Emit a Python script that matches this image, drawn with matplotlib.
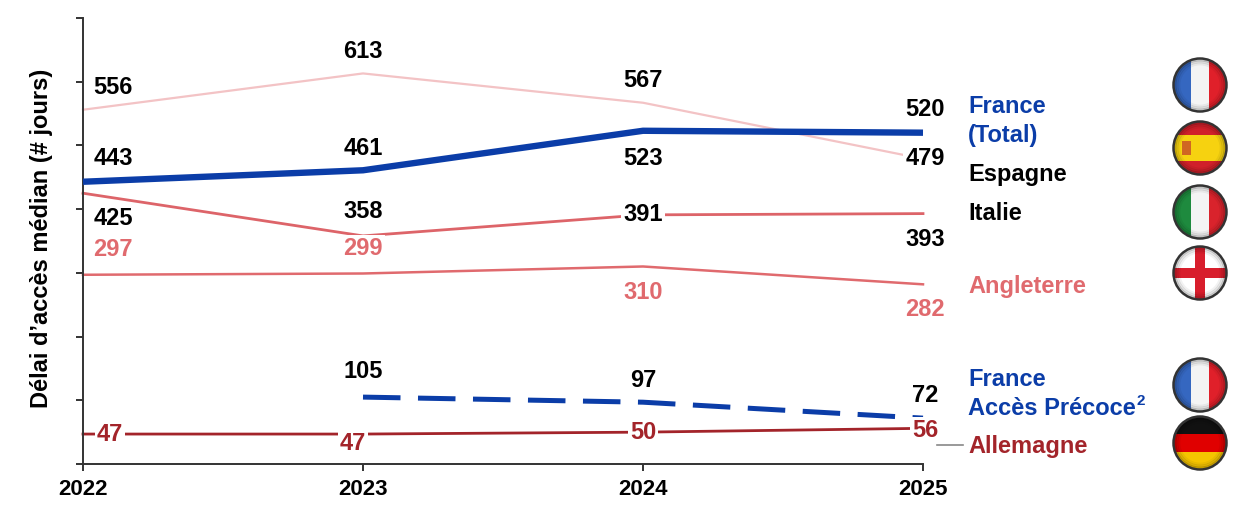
import matplotlib
matplotlib.use("Agg")
import matplotlib.pyplot as plt
from matplotlib.patches import Circle, Rectangle

plt.rcParams['font.family'] = ['Liberation Sans', 'DejaVu Sans']
plt.rcParams['font.weight'] = 'bold'

# ---------------- data ----------------
years = [2022, 2023, 2024, 2025]
years_precoce = [2023, 2024, 2025]
france_total = [443, 461, 523, 520]
espagne = [556, 613, 567, 479]
italie = [425, 358, 391, 393]
angleterre = [297, 299, 310, 282]
france_precoce = [105, 97, 72]
allemagne = [47, 47, 50, 56]
series_names = ["France\n(Total)", "Espagne", "Italie", "Angleterre",
                "France\nAccès Précoce", "Allemagne"]
footnote_mark = "2"
ylabel = "Délai d’accès médian (# jours)"

# ---------------- styles ----------------
BLUE = "#0B3DA8"
PINK = "#F3C3C5"
ITALY = "#DD6469"
ENG = "#E06A6E"
GER = "#A3242A"

W, H = 1254, 529
fig = plt.figure(figsize=(W / 100, H / 100), dpi=100)
ax = fig.add_axes([83 / W, 1 - 464 / H, (923 - 83) / W, (464 - 18) / H])
ax.set_xlim(2022, 2025)
ax.set_ylim(0, 700)

for s in ("top", "right"):
    ax.spines[s].set_visible(False)
for s in ("left", "bottom"):
    ax.spines[s].set_color("#333333")
    ax.spines[s].set_linewidth(1.4)
ax.set_yticks(range(0, 701, 100))
ax.set_yticklabels([])
ax.set_xticks(years)
ax.set_xticklabels([str(y) for y in years], fontsize=16, fontweight='bold')
ax.tick_params(axis='y', direction='out', length=5, width=1.4, color="#333333")
ax.tick_params(axis='x', direction='out', length=5, width=1.4, color="#333333", pad=6)

ax.plot(years, espagne, color=PINK, lw=1.6, zorder=2, clip_on=False)
ax.plot(years, italie, color=ITALY, lw=2.0, zorder=2, clip_on=False)
ax.plot(years, angleterre, color=ENG, lw=1.8, zorder=2, clip_on=False)
ax.plot(years, allemagne, color=GER, lw=2.0, zorder=2, clip_on=False)
ax.plot(years_precoce, france_precoce, color=BLUE, lw=3.6, dashes=(7.5, 3.5),
        zorder=3, clip_on=False)
ax.plot(years, france_total, color=BLUE, lw=4.6, zorder=4, clip_on=False, solid_capstyle='butt')


def lab(xs, vals, offs, color):
    for x, v, (dx, dy) in zip(xs, vals, offs):
        ax.annotate(str(v), (x, v), xytext=(dx, dy), textcoords='offset pixels',
                    ha='center', va='center', fontsize=17, fontweight='bold',
                    color=color, zorder=6, annotation_clip=False,
                    bbox=dict(boxstyle='square,pad=0.08', fc='white', ec='none'))


lab(years, espagne, [(30, 22), (0, 22), (0, 22), (2, 0)], "black")
lab(years, france_total, [(30, 23), (0, 22), (0, -28), (2, 23)], "black")
lab(years, italie, [(30, -25), (0, 24), (0, 0), (2, -26)], "black")
lab(years, angleterre, [(30, 25), (0, 25), (0, -26), (2, -25)], ENG)
lab(years_precoce, france_precoce, [(0, 26), (0, 22), (2, 23)], "black")
lab(years, allemagne, [(27, 0), (-10, -9), (0, 0), (2, -2)], GER)

fig.text(42 / W, 1 - 238 / H, ylabel, rotation=90, ha='center', va='center',
         fontsize=17, fontweight='bold')

# ---------------- overlay (pixel coordinates) ----------------
ov = fig.add_axes([0, 0, 1, 1], zorder=-1)
ov.set_xlim(0, W)
ov.set_ylim(H, 0)
ov.axis('off')

name_colors = [BLUE, "black", "black", ENG, BLUE, GER]
name_y = [121, 174, 214, 286, 394, 447]
texts = []
for name, c, y in zip(series_names, name_colors, name_y):
    t = ov.text(968, y, name, color=c, fontsize=17, fontweight='bold',
                ha='left', va='center', linespacing=1.35)
    texts.append(t)

# superscript footnote mark after "Précoce"
fig.canvas.draw()
bb = texts[4].get_window_extent(fig.canvas.get_renderer())
ov.text(bb.x1 + 1, 401, footnote_mark, color=BLUE, fontsize=11,
        fontweight='bold', ha='left', va='center')

ov.plot([937, 963], [445, 445], color="#888888", lw=1.2)


def flag(cx, cy, kind, r=26.5):
    circ = Circle((cx, cy), r, transform=ov.transData)
    parts = []
    if kind == 'fr' or kind == 'it':
        cols = ["#3567C0", "#F4F4F4", "#E0202A"] if kind == 'fr' else ["#1E8A3E", "#F4F4F4", "#D9232C"]
        for i, c in enumerate(cols):
            parts.append(Rectangle((cx - r + i * 2 * r / 3, cy - r), 2 * r / 3, 2 * r, fc=c, ec='none'))
    elif kind == 'es':
        parts.append(Rectangle((cx - r, cy - r), 2 * r, 2 * r, fc="#D0202A", ec='none'))
        parts.append(Rectangle((cx - r, cy - r / 2), 2 * r, r, fc="#F6D210", ec='none'))
        parts.append(Rectangle((cx - r + 8, cy - 7), 9, 14, fc="#C0392B", ec='none', alpha=0.7))
    elif kind == 'en':
        parts.append(Rectangle((cx - r, cy - r), 2 * r, 2 * r, fc="white", ec='none'))
        parts.append(Rectangle((cx - r, cy - 5), 2 * r, 10, fc="#D81E2C", ec='none'))
        parts.append(Rectangle((cx - 5, cy - r), 10, 2 * r, fc="#D81E2C", ec='none'))
    elif kind == 'de':
        for i, c in enumerate(["#111111", "#E00000", "#F5C400"]):
            parts.append(Rectangle((cx - r, cy - r + i * 2 * r / 3), 2 * r, 2 * r / 3, fc=c, ec='none'))
    for p in parts:
        ov.add_patch(p)
        p.set_clip_path(circ)
    for k, a in enumerate([0.18, 0.10, 0.05]):
        ov.add_patch(Circle((cx, cy), r - 1.5 - 2 * k, fc='none', ec='black', lw=2, alpha=a))
    ov.add_patch(Circle((cx, cy), r, fc='none', ec="#333333", lw=1.8))


for cy, k in zip([85, 148, 212, 273, 385, 443], ['fr', 'es', 'it', 'en', 'fr', 'de']):
    flag(1200, cy, k)

fig.savefig("out.png", dpi=100, facecolor='white')
